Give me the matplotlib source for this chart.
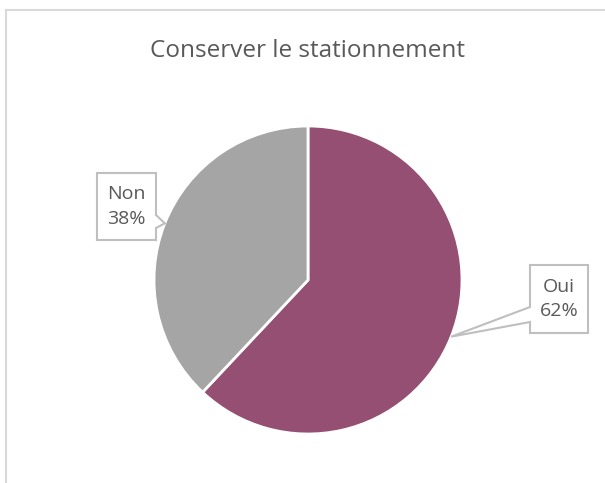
import numpy as np
import matplotlib
matplotlib.use("Agg")
from matplotlib import pyplot as plt
from matplotlib.patches import Polygon
from matplotlib.lines import Line2D

plt.rcParams["font.family"] = ["Open Sans", "DejaVu Sans"]

title = "Conserver le stationnement"
labels = ["Oui", "Non"]
values = [62, 38]
colors = ["#954F72", "#A5A5A5"]

text_color = "#595959"
box_edge = "#BFBFBF"

W, H = 605, 483
fig = plt.figure(figsize=(W / 100, H / 100), dpi=100)

# pie centre / radius in pixels, axes in units of radius
cx, cy, r = 308, 280, 154
ax = fig.add_axes([0, 0, 1, 1])

wedges, _ = ax.pie(values, startangle=90, counterclock=False, colors=colors,
                   radius=1, wedgeprops=dict(edgecolor="white", linewidth=2))

# pie() resets the limits, so set them afterwards
ax.set_xlim(-cx / r, (W - cx) / r)
ax.set_ylim((cy - H) / r, cy / r)
ax.axis("off")


def px(x, y):
    return ((x - cx) / r, (cy - y) / r)


# callout boxes: (left, top, right, bottom) in pixels, pointer base on one side
callouts = {
    "Oui": dict(box=(530, 265, 588, 333), side="left", base=(307, 322)),
    "Non": dict(box=(97, 173, 156, 240), side="right", base=(215, 228)),
}

total = sum(values)
start = 90
for lab, val, w in zip(labels, values, wedges):
    mid = np.deg2rad(start - val / total * 360 / 2)
    start -= val / total * 360
    tip = (np.cos(mid), np.sin(mid))
    c = callouts[lab]
    l, t, rr, b = c["box"]
    b0, b1 = c["base"]
    if c["side"] == "left":
        pts = [px(l, t), px(rr, t), px(rr, b), px(l, b), px(l, b1), tip, px(l, b0)]
    else:
        pts = [px(l, t), px(rr, t), px(rr, b0), tip, px(rr, b1), px(rr, b), px(l, b)]
    ax.add_patch(Polygon(pts, closed=True, facecolor="white", edgecolor=box_edge,
                         linewidth=1.5, zorder=5))
    tx, ty = px((l + rr) / 2, (t + b) / 2)
    ax.text(tx, ty, f"{lab}\n{val}%", ha="center", va="center", fontsize=14,
            color=text_color, linespacing=1.45, zorder=6)

fig.text(cx / W, 1 - 51 / H, title, ha="center", va="center", fontsize=17.5,
         color=text_color)

# chart area border (only top and left visible in the crop)
fig.add_artist(Line2D([6 / W, 6 / W], [0, 1 - 10 / H], color="#D9D9D9", lw=1.5))
fig.add_artist(Line2D([6 / W, 1], [1 - 10 / H, 1 - 10 / H], color="#D9D9D9", lw=1.5))

plt.savefig("out.png", dpi=100, facecolor="white")
